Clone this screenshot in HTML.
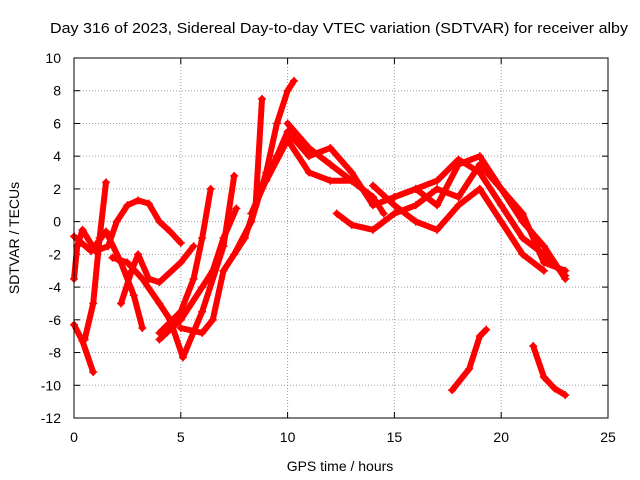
<!DOCTYPE html>
<html><head><meta charset="utf-8">
<style>
html,body{margin:0;padding:0;background:#fff;}
svg{display:block;font-family:"Liberation Sans",sans-serif;}
</style></head>
<body>
<svg id="chart" width="640" height="480" viewBox="0 0 640 480">
<text x="339" y="33" font-size="15" text-anchor="middle" textLength="578" lengthAdjust="spacingAndGlyphs" fill="#000">Day 316 of 2023, Sidereal Day-to-day VTEC variation (SDTVAR) for receiver alby</text>
<text x="340" y="471" font-size="14" text-anchor="middle">GPS time / hours</text>
<text transform="translate(19,238) rotate(-90)" font-size="14" text-anchor="middle">SDTVAR / TECUs</text>
<g id="grid"></g>
<g id="ticks"></g>
<g id="series"></g>
<rect x="74" y="58" width="534" height="360" fill="none" stroke="#000" stroke-width="1"/>
</svg>
<script>
const xTicks=[0,5,10,15,20,25];
const yTicks=[10,8,6,4,2,0,-2,-4,-6,-8,-10,-12];
const track1=[[0,-6.3],[0.4,-7.3],[0.9,-9.2]];
const track2=[[0.5,-7.2],[0.9,-5],[1.2,-1],[1.5,2.4]];
const track3=[[0,-3.5],[0.15,-1.5],[0.4,-0.5],[1,-1.8],[1.6,-1.5],[2,0],[2.5,1],[3,1.3],[3.5,1.1],[4,0],[4.5,-0.6],[5,-1.3]];
const track4=[[0,-0.9],[0.8,-1.8],[1.5,-0.6],[2.2,-2.5],[2.8,-4.5],[3.2,-6.5]];
const track5=[[2.2,-5],[2.7,-3],[3,-2],[3.5,-3.5],[4,-3.7],[5,-2.5],[5.6,-1.5]];
const track6=[[1.8,-2.2],[2.5,-2.5],[3.2,-3.5],[4,-5],[4.5,-6],[5.1,-8.3],[6,-5.5],[7,-1.5],[7.5,2.8]];
const track7=[[4,-7.2],[5,-6],[6,-4],[6.5,-3],[7,-1],[7.6,0.8]];
const track8=[[4,-6.8],[5,-5.5],[5.6,-3.5],[6,-1],[6.4,2]];
const track9=[[5,-6.5],[6,-6.8],[6.5,-6],[7,-3],[8,-1],[8.5,1],[8.8,7.5]];
const track10=[[7.5,-2],[8.3,0],[9,3],[9.5,6],[10,8],[10.3,8.6]];
const track11=[[8.3,0.5],[9.5,4],[10,5.5],[11,4],[12,4.5],[13,3],[14,1],[15,1.5],[16,2],[17,2.5],[18,3.8],[19,3],[20,1],[21,-1],[22,-2],[23,-3.3]];
const track12=[[9,2.5],[10,5],[11,3],[12,2.5],[13,2.5],[14,1.5],[14.5,0.5]];
const track13=[[12.3,0.5],[13,-0.2],[14,-0.5],[15,0.5],[16,1],[17,2],[18,1.5],[19,3.5],[20,2],[21,0],[22,-1.5],[23,-3.5]];
const track14=[[14,2.2],[15,1],[16,0],[17,-0.5],[18,1],[19,2],[20,0],[21,-2],[22,-3]];
const track15=[[15,1.5],[16,2],[17,1],[18,3.5],[19,4],[20,2],[21,0.5],[22,-2.5],[23,-3]];
const track16=[[10,6],[11,4.5],[12,3.5],[13,2.5],[14,1.5]];
const track17=[[17.7,-10.3],[18.5,-9],[19,-7],[19.3,-6.6]];
const track18=[[21.5,-7.6],[22,-9.5],[22.5,-10.2],[23,-10.6]];
const tracks=[track1,track2,track3,track4,track5,track6,track7,track8,track9,track10,track11,track12,track13,track14,track15,track16,track17,track18];

const X0=74,X1=608,Y0=418,Y1=58,xmin=0,xmax=25,ymin=-12,ymax=10;
function xs(v){return X0+(v-xmin)/(xmax-xmin)*(X1-X0);}
function ys(v){return Y0-(v-ymin)/(ymax-ymin)*(Y0-Y1);}
const NS="http://www.w3.org/2000/svg";
const grid=document.getElementById('grid'),ticks=document.getElementById('ticks'),series=document.getElementById('series');
function mk(tag,attrs,parent){const e=document.createElementNS(NS,tag);for(const k in attrs)e.setAttribute(k,attrs[k]);parent.appendChild(e);return e;}
xTicks.forEach(t=>{
  const x=xs(t);
  if(t>xmin&&t<xmax){const g=mk('line',{x1:x,x2:x,y1:Y1,y2:Y0,stroke:'#a0a0a0','stroke-dasharray':'1,2'},grid);
  
  }
  mk('line',{x1:x,x2:x,y1:Y0,y2:Y0-6,stroke:'#000'},ticks);
  mk('line',{x1:x,x2:x,y1:Y1,y2:Y1+6,stroke:'#000'},ticks);
  const l=mk('text',{x:x,y:442,'font-size':14,'text-anchor':'middle'},ticks);l.textContent=t;
  
  
});
yTicks.forEach(t=>{
  const y=ys(t);
  if(t>ymin&&t<ymax){const g=mk('line',{x1:X0,x2:X1,y1:y,y2:y,stroke:'#a0a0a0','stroke-dasharray':'1,2'},grid);
  
  }
  mk('line',{x1:X0,x2:X0+6,y1:y,y2:y,stroke:'#000'},ticks);
  mk('line',{x1:X1,x2:X1-6,y1:y,y2:y,stroke:'#000'},ticks);
  const l=mk('text',{x:61,y:y+5,'font-size':14,'text-anchor':'end'},ticks);l.textContent=t;
  
  
});
tracks.forEach((tr,i)=>{
  const pts=tr.map(p=>xs(p[0]).toFixed(1)+','+ys(p[1]).toFixed(1)).join(' ');
  const pl=mk('polyline',{points:pts,fill:'none',stroke:'#ff0000','stroke-width':6,'stroke-linejoin':'round','stroke-linecap':'round'},series);
  
  
  tr.forEach(p=>{
    const cx=xs(p[0]),cy=ys(p[1]);
    mk('path',{d:`M${cx-4},${cy}H${cx+4}M${cx},${cy-4}V${cy+4}`,stroke:'#ff0000','stroke-width':1.5},series);
  });
});
</script>
</body></html>
